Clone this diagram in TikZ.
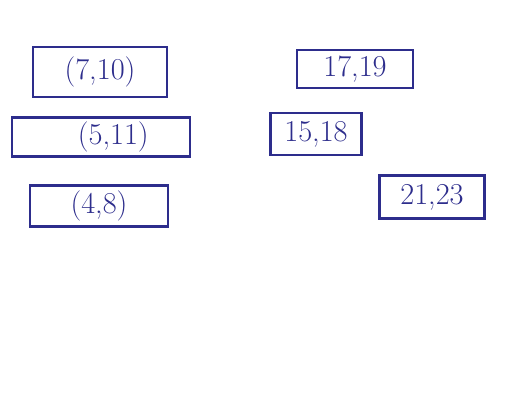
\documentclass[tikz,border=0pt]{standalone}
\usepackage{tikz}

\definecolor{ink}{RGB}{45,45,140}
\tikzset{pairbox/.style={draw=ink, text=ink, line width=1.6pt, font=\LARGE, inner sep=0pt}}

\begin{document}
\begin{tikzpicture}[x=0.02cm, y=-0.02cm]
      \useasboundingbox (0,0) rectangle (512,400);
      \node[pairbox, minimum width=134*0.02cm, minimum height=50*0.02cm] (p710) at (100,72) {(7,10)};
      \node[pairbox, minimum width=178*0.02cm, minimum height=39*0.02cm] (p511) at (101,137) {\hspace{14pt}(5,11)};
      \node[pairbox, minimum width=138*0.02cm, minimum height=41*0.02cm] (p48) at (99,206) {(4,8)};
      \node[pairbox, minimum width=116*0.02cm, minimum height=38*0.02cm] (p1719) at (355,69) {17,19};
      \node[pairbox, minimum width=91*0.02cm, minimum height=42*0.02cm] (p1518) at (316,134) {15,18\hspace{8pt}};
      \node[pairbox, minimum width=105*0.02cm, minimum height=43*0.02cm] (p2123) at (432,197) {21,23};
    \end{tikzpicture}
\end{document}
